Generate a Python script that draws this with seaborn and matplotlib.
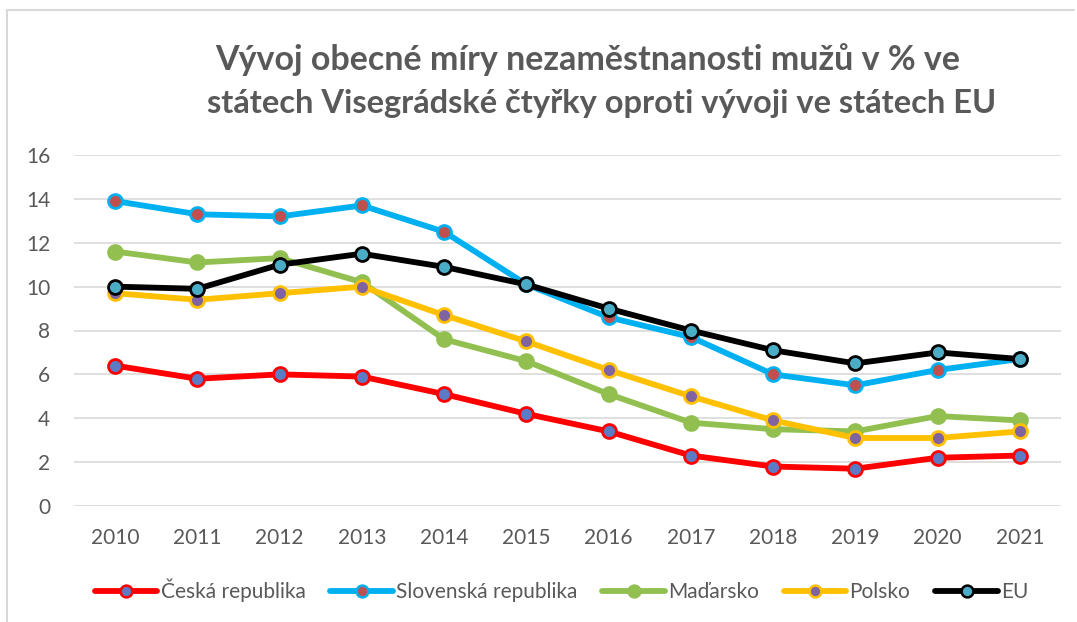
import matplotlib
matplotlib.use("Agg")
import matplotlib.pyplot as plt
import seaborn as sns
import pandas as pd
from matplotlib.lines import Line2D

years = ["2010", "2011", "2012", "2013", "2014", "2015", "2016", "2017", "2018", "2019", "2020", "2021"]
ceska = [6.4, 5.8, 6.0, 5.9, 5.1, 4.2, 3.4, 2.3, 1.8, 1.7, 2.2, 2.3]
slovenska = [13.9, 13.3, 13.2, 13.7, 12.5, 10.1, 8.6, 7.7, 6.0, 5.5, 6.2, 6.7]
madarsko = [11.6, 11.1, 11.3, 10.2, 7.6, 6.6, 5.1, 3.8, 3.5, 3.4, 4.1, 3.9]
polsko = [9.7, 9.4, 9.7, 10.0, 8.7, 7.5, 6.2, 5.0, 3.9, 3.1, 3.1, 3.4]
eu = [10.0, 9.9, 11.0, 11.5, 10.9, 10.1, 9.0, 8.0, 7.1, 6.5, 7.0, 6.7]

series_names = ["Česká republika", "Slovenská republika", "Maďarsko", "Polsko", "EU"]
series_vals = [ceska, slovenska, madarsko, polsko, eu]
title_lines = ["Vývoj obecné míry nezaměstnanosti mužů v % ve",
               "státech Visegrádské čtyřky oproti vývoji ve státech EU"]
line_colors = ["#ff0000", "#00b0f0", "#92c050", "#ffc000", "#000000"]
marker_fill = ["#5b7bc4", "#c0504d", "#92c050", "#8064a2", "#4bacc6"]
marker_edge = ["#ff0000", "#00b0f0", "#92c050", "#ffc000", "#000000"]

sns.set_theme(style="white")
plt.rcParams['font.family'] = ['Lato', 'DejaVu Sans']

rows = []
for name, vals in zip(series_names, series_vals):
    for y, v in zip(years, vals):
        rows.append({"Rok": y, "Hodnota": v, "Stát": name})
df = pd.DataFrame(rows)

fig = plt.figure(figsize=(10.77, 6.22), dpi=100)
ax = fig.add_axes([74/1077, 1 - 506/622, (1061 - 74)/1077, (506 - 155)/622])

for i, name in enumerate(series_names):
    sub = df[df["Stát"] == name]
    sns.lineplot(data=sub, x="Rok", y="Hodnota", ax=ax, color=line_colors[i],
                 linewidth=4.2, marker="o", markersize=10,
                 markerfacecolor=marker_fill[i], markeredgecolor=marker_edge[i],
                 markeredgewidth=2, label=name, sort=False, zorder=3 + i)

ax.set_xlim(-0.5, len(years) - 0.5)
ax.set_ylim(0, 16)
ax.set_yticks(range(0, 17, 2))
ax.grid(axis="y", color="#d9d9d9", linewidth=1.2)
ax.grid(axis="x", visible=False)
for s in ax.spines.values():
    s.set_visible(False)
ax.set_xlabel("")
ax.set_ylabel("")
ax.tick_params(axis="both", length=0, labelsize=15, colors="#595959")
ax.tick_params(axis="x", pad=16)
ax.tick_params(axis="y", pad=17)

fig.text(588/1077, 1 - 60/622, title_lines[0], ha="center", va="center",
         fontsize=24.5, fontweight="bold", color="#595959")
fig.text(602/1077, 1 - 103/622, title_lines[1], ha="center", va="center",
         fontsize=23.5, fontweight="bold", color="#595959")

handles = []
for i, name in enumerate(series_names):
    handles.append(Line2D([0], [0], color=line_colors[i], linewidth=4.2, marker="o",
                          markersize=8.5, markerfacecolor=marker_fill[i],
                          markeredgecolor=marker_edge[i], markeredgewidth=1.8))
ax.legend(handles, series_names, loc="center", bbox_to_anchor=(0.494, -0.24), ncol=5,
          frameon=False, fontsize=15, handlelength=3.0, handletextpad=0.15,
          columnspacing=1.2, labelcolor="#595959")

# chart frame
fig.add_artist(Line2D([7/1077, 1074/1077], [1 - 10/622, 1 - 10/622], color="#d9d9d9", linewidth=1.5))
fig.add_artist(Line2D([7/1077, 7/1077], [1 - 10/622, 0], color="#d9d9d9", linewidth=1.5))

fig.savefig("out.png", dpi=100)
